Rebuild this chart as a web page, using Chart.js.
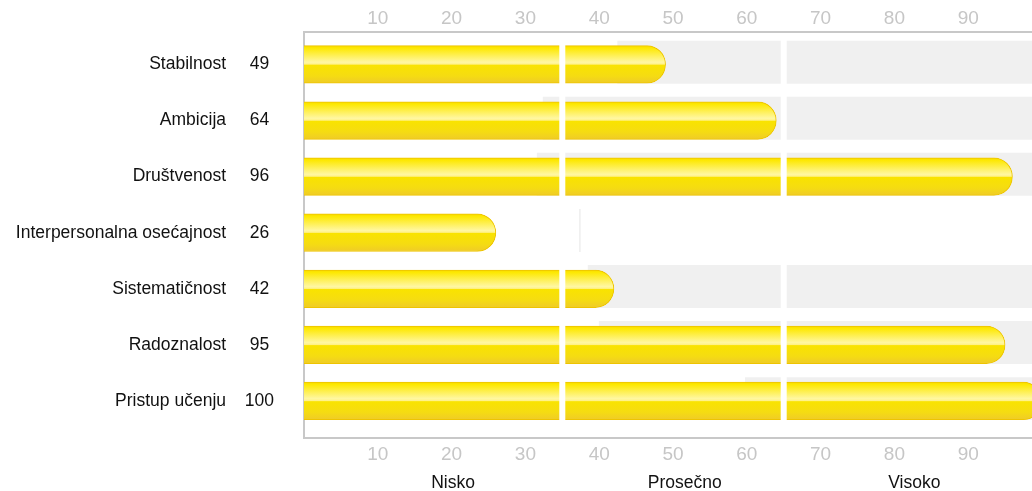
<!DOCTYPE html>
<html>
<head>
<meta charset="utf-8">
<script src="https://cdn.jsdelivr.net/npm/chart.js@4"></script>
<style>
  html, body { margin: 0; padding: 0; overflow: hidden; background: #fff; }
  #wrap { width: 1044px; height: 491px; }
</style>
</head>
<body>
<div id="wrap"><canvas id="profileChart" width="1044" height="491"></canvas></div>
<script>
const categories = ['Stabilnost', 'Ambicija', 'Društvenost', 'Interpersonalna osećajnost', 'Sistematičnost', 'Radoznalost', 'Pristup učenju'];
const scores = [49, 64, 96, 26, 42, 95, 100];
const bandStart = [42.5, 32.4, 31.6, 37.3, 38.5, 40, 59.8];
const bandEnd = [100, 100, 100, 37.45, 100, 100, 100];
const xTicks = [10, 20, 30, 40, 50, 60, 70, 80, 90];
const zoneLabels = ['Nisko', 'Prosečno', 'Visoko'];
const zoneBreaks = [35, 65];

Chart.defaults.font.family = "'Liberation Sans', Arial, sans-serif";

const yMin = -0.588, yMax = 6.661;
const barH = 37.6;

function barFill(c) {
    const chart = c.chart;
    const y = chart.scales.y;
    if (!y || c.type !== 'data') return '#f8e000';
    const mid = y.getPixelForValue(c.dataIndex);
    if (!isFinite(mid)) return '#f8e000';
    const g = chart.ctx.createLinearGradient(0, mid - barH / 2, 0, mid + barH / 2);
    g.addColorStop(0, '#f6d800');
    g.addColorStop(0.06, '#fde800');
    g.addColorStop(0.44, '#fff7a2');
    g.addColorStop(0.49, '#fff28a');
    g.addColorStop(0.52, '#f9e300');
    g.addColorStop(0.8, '#f5dc12');
    g.addColorStop(1, '#efcb28');
    return g;
}

const separators = {
    id: 'separators',
    afterDatasetsDraw(chart) {
        const { ctx, chartArea, scales: { x } } = chart;
        ctx.save();
        ctx.fillStyle = '#ffffff';
        zoneBreaks.forEach(v => {
            const px = x.getPixelForValue(v);
            ctx.fillRect(px - 3, chartArea.top + 2, 6, chartArea.bottom - chartArea.top - 4);
        });
        ctx.restore();
    }
};

const tickFont = { size: 19 };
const labelFont = { size: 17.5 };
const noPad = a => { a.paddingTop = 0; a.paddingBottom = 0; };

new Chart(document.getElementById('profileChart'), {
    type: 'bar',
    data: {
        datasets: [
            {
                data: scores.map((v, i) => ({ x: v, y: i })),
                backgroundColor: barFill,
                borderColor: '#eec400',
                borderWidth: 1,
                borderSkipped: 'left',
                borderRadius: { topRight: barH / 2, bottomRight: barH / 2 },
                barThickness: barH,
                grouped: false,
                order: 0
            },
            {
                data: bandStart.map((s, i) => ({ x: [s, bandEnd[i]], y: i })),
                yAxisID: 'yg',
                backgroundColor: '#f0f0f0',
                borderWidth: 0,
                barThickness: 42.3,
                grouped: false,
                order: 1
            }
        ]
    },
    options: {
        indexAxis: 'y',
        responsive: false,
        animation: false,
        layout: { padding: { top: 0, right: 2, left: 0, bottom: 0 } },
        plugins: { legend: { display: false }, tooltip: { enabled: false } },
        scales: {
            x: {
                type: 'linear', position: 'top', min: 0, max: 100,
                grid: { display: false, drawTicks: false },
                border: { display: true, color: '#c8c8c8', width: 2 },
                afterBuildTicks: a => { a.ticks = xTicks.map(v => ({ value: v })); },
                afterFit: a => { a.height = 31.5; },
                ticks: { color: '#c6c6c6', font: tickFont, padding: 1 }
            },
            xb: {
                type: 'linear', position: 'bottom', min: 0, max: 100, weight: 0,
                grid: { display: false, drawTicks: false },
                border: { display: true, color: '#c8c8c8', width: 2 },
                afterBuildTicks: a => { a.ticks = xTicks.map(v => ({ value: v })); },
                afterFit: a => { a.height = 26; },
                ticks: { color: '#c6c6c6', font: tickFont, padding: 5 }
            },
            xz: {
                type: 'linear', position: 'bottom', min: 0, max: 100, weight: 1,
                grid: { display: false, drawTicks: false },
                border: { display: false },
                afterBuildTicks: a => { a.ticks = [20.2, 51.6, 82.7].map(v => ({ value: v })); },
                afterFit: a => { a.height = 27; },
                ticks: { color: '#111', font: labelFont, padding: 9,
                    callback: (v, i) => zoneLabels[i] }
            },
            y: {
                type: 'linear', position: 'left', reverse: true, offset: false, min: yMin, max: yMax, weight: 0,
                grid: { display: false, drawTicks: false },
                border: { display: true, color: '#c8c8c8', width: 2 },
                afterBuildTicks: a => { a.ticks = scores.map((_, i) => ({ value: i })); },
                afterFit: a => { a.width = 58; noPad(a); },
                ticks: { color: '#111', font: labelFont, padding: 30, crossAlign: 'center',
                    callback: v => String(scores[v]) }
            },
            yl: {
                type: 'linear', position: 'left', reverse: true, offset: false, min: yMin, max: yMax, weight: 1,
                grid: { display: false, drawTicks: false },
                border: { display: false },
                afterBuildTicks: a => { a.ticks = categories.map((_, i) => ({ value: i })); },
                afterFit: a => { a.width = 246; noPad(a); },
                ticks: { color: '#111', font: labelFont, padding: 20,
                    callback: v => categories[v] }
            },
            yg: {
                type: 'linear', display: false, reverse: true, offset: false,
                min: yMin + 0.041, max: yMax + 0.041
            }
        }
    },
    plugins: [separators]
});
</script>
</body>
</html>
